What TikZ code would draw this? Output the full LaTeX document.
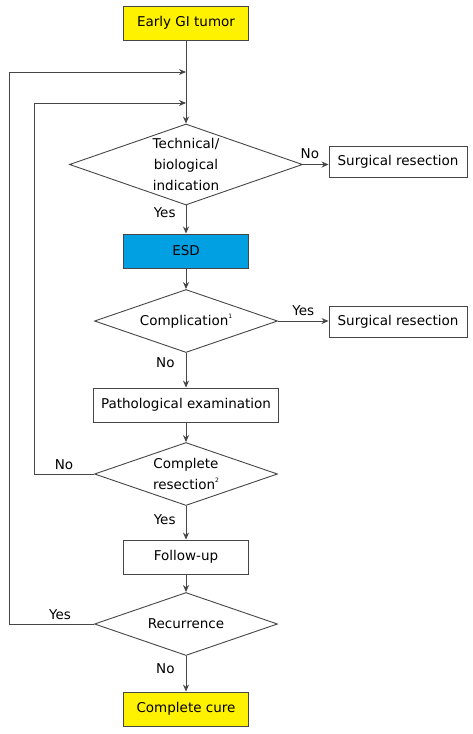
\documentclass[tikz,border=0pt]{standalone}
\usepackage{fontspec}
\setmainfont{DejaVu Sans}
\usepackage{tikz}
\usetikzlibrary{shapes.geometric,arrows.meta}
\definecolor{tumoryellow}{RGB}{255,242,0}
\definecolor{esdblue}{RGB}{0,160,227}
\definecolor{linegray}{RGB}{70,70,70}
\newcommand{\fnmark}[1]{\raisebox{0.9ex}{\fontsize{6}{6}\selectfont #1}}

\begin{document}
\begin{tikzpicture}[x=1pt,y=-1pt,line width=0.9pt]
  \tikzstyle{block} = [draw=linegray,fill=white,minimum width=125pt,minimum height=34pt,inner sep=0pt,font=\fontsize{13.5}{22}\selectfont]
  \tikzstyle{decision} = [draw=linegray,shape=diamond,aspect=2.9,inner sep=0pt,minimum width=183pt,minimum height=63pt,align=center,font=\fontsize{13.5}{21}\selectfont]
  \tikzstyle{answer} = [font=\fontsize{13.5}{16}\selectfont,inner sep=2pt]
  \tikzstyle{flow} = [draw=linegray,-{Stealth[length=7pt,width=6pt]}]
  %
  \useasboundingbox (0,0) rectangle (472,734);
  % Main column.
  \node[block,fill=tumoryellow] (tumor) at (186,23) {Early GI tumor};
  \node[decision,minimum width=233pt,minimum height=81pt] (indication) at (186,164.5) {Technical/\\biological\\indication};
  \node[block,fill=esdblue] (esd) at (186,251) {ESD};
  \node[decision] (complication) at (186,321) {Complication\fnmark{1}};
  \node[block,minimum width=185pt] (patho) at (186,405) {Pathological examination};
  \node[decision] (resection) at (186,474) {Complete\\resection\fnmark{2}};
  \node[block] (followup) at (186,557) {Follow-up};
  \node[decision] (recurrence) at (186,624) {Recurrence};
  \node[block,fill=tumoryellow] (cure) at (186,709) {Complete cure};

  % Side column.
  \node[block,minimum width=138pt,minimum height=31pt] (surgery1) at (398,161.5) {Surgical resection};
  \node[block,minimum width=138pt,minimum height=31pt] (surgery2) at (398,321.5) {Surgical resection};

  % Loop entries.
  \coordinate (entry1) at (186,72);
  \coordinate (entry2) at (186,103);

  % Draw connectors.
  \draw[flow] (tumor) -- (indication);
  \draw[flow] (indication.east) -- node[answer,above=3pt,pos=0.27] {No} (indication.east -| surgery1.west);
  \draw[flow] (indication) -- node[answer,left=8pt,pos=0.25] {Yes} (esd);
  \draw[flow] (esd) -- (complication);
  \draw[flow] (complication.east) -- node[answer,above=3pt] {Yes} (complication.east -| surgery2.west);
  \draw[flow] (complication) -- node[answer,left=9pt,pos=0.28] {No} (patho);
  \draw[flow] (patho) -- (resection);
  \draw[flow] (resection.west) -- node[answer,above=2pt] {No} ++(-60,0) |- (entry2);
  \draw[flow] (resection) -- node[answer,left=8pt,pos=0.4] {Yes} (followup);
  \draw[flow] (followup) -- (recurrence);
  \draw[flow] (recurrence.west) -- node[answer,above=2pt,pos=0.4] {Yes} ++(-85,0) |- (entry1);
  \draw[flow] (recurrence) -- node[answer,left=9pt,pos=0.35] {No} (cure);
\end{tikzpicture}
\end{document}
